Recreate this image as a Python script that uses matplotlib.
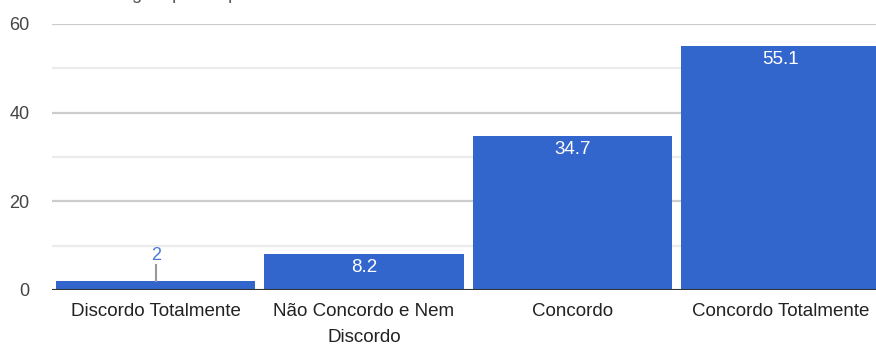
import matplotlib.pyplot as plt
from matplotlib.ticker import MultipleLocator

plt.rcParams['font.family'] = ['Liberation Sans', 'DejaVu Sans']

# dados
categorias = ["Discordo Totalmente", "Não Concordo e Nem\nDiscordo", "Concordo", "Concordo Totalmente"]
percentagens = [2, 8.2, 34.7, 55.1]
titulo = "Percentagem por resposta"

fig = plt.figure(figsize=(8.76, 3.45), dpi=100)
ax = fig.add_axes([51.6 / 876, 55 / 345, 833 / 876, 266 / 345])

x = range(len(categorias))
ax.bar(x, percentagens, width=0.957, color="#3366cc", zorder=3)

ax.set_xlim(-0.5, len(categorias) - 0.5)
ax.set_ylim(0, 60)
ax.yaxis.set_major_locator(MultipleLocator(20))
ax.yaxis.set_minor_locator(MultipleLocator(10))
ax.grid(axis="y", which="major", color="#cccccc", linewidth=1.6, zorder=0)
ax.grid(axis="y", which="minor", color="#ebebeb", linewidth=1.6, zorder=0)
ax.axhline(0, color="#333333", linewidth=2.2, zorder=4)

for s in ax.spines.values():
    s.set_visible(False)
ax.tick_params(axis="both", which="both", length=0)
ax.tick_params(axis="y", labelsize=13, labelcolor="#444444", pad=16)
ax.set_xticks(list(x))
ax.set_xticklabels(categorias, fontsize=13.5, color="#222222", linespacing=1.7)
ax.tick_params(axis="x", pad=9)

# rótulos dos valores
for i, v in enumerate(percentagens):
    lbl = f"{v:g}"
    if v < 5:
        ax.plot([i, i], [v, 5.6], color="#999999", linewidth=1.5, zorder=5)
        ax.text(i, 5.9, lbl, ha="center", va="bottom", fontsize=13, color="#4a7ad6")
    else:
        ax.text(i, v - 1.2, lbl, ha="center", va="top", fontsize=13.5,
                color="white", zorder=5)

# título cortado no topo
fig.text(60 / 876, 1.004, titulo, ha="left", va="baseline", fontsize=13, color="#555555")

fig.savefig("out.png", dpi=100)
